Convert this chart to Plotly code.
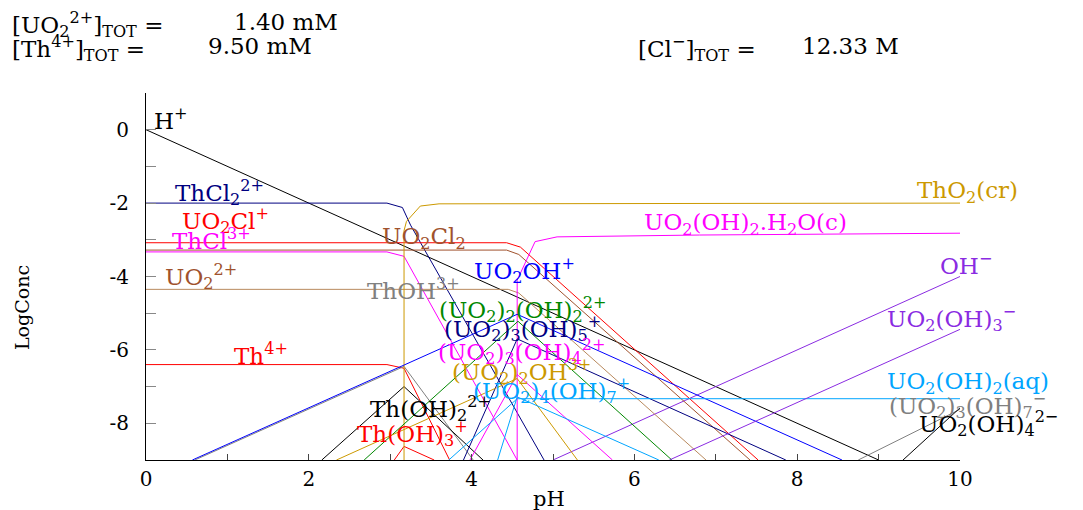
import plotly.graph_objects as go

# pH / log concentration
h_ph = [0, 9]
h_lc = [0, -9]
oh_ph = [5, 10]
oh_lc = [-9, -4]

thcl2_ph = [0, 2.96, 3.15, 3.25, 4.89]
thcl2_lc = [-2.0, -2.0, -2.12, -2.6, -9]
uo2cl_ph = [0, 4.43, 4.6, 7.52]
uo2cl_lc = [-3.08, -3.08, -3.2, -9]
uo2cl2_ph = [0, 4.43, 4.58, 7.42]
uo2cl2_lc = [-3.28, -3.28, -3.4, -9]
thcl3_ph = [0, 2.96, 3.17, 4.56]
thcl3_lc = [-3.33, -3.33, -3.45, -9]
uo2_ph = [0, 4.45, 4.58, 6.88]
uo2_lc = [-4.35, -4.35, -4.45, -9]
th_ph = [0, 2.96, 3.17, 3.73]
th_lc = [-6.4, -6.4, -6.5, -9]
thoh_ph = [0.6, 3.17, 4.02]
thoh_lc = [-9, -6.45, -9]
thoh2_ph = [2.16, 3.17, 4.14]
thoh2_lc = [-9, -7.0, -9]
thoh3_ph = [3.05, 3.17, 3.54]
thoh3_lc = [-9, -8.63, -9]
tho2_ph = [3.17, 3.17, 3.2, 3.37, 3.6, 10]
tho2_lc = [-9, -2.75, -2.5, -2.08, -2.02, -2.0]
uo2s_ph = [4.56, 4.56, 4.78, 5.05, 6.8, 10]
uo2s_lc = [-9, -4.1, -3.05, -2.92, -2.87, -2.82]
uo2oh_ph = [0.57, 4.56, 8.55]
uo2oh_lc = [-9, -5.03, -9]
u2oh2_ph = [2.68, 4.57, 6.46]
u2oh2_lc = [-9, -5.22, -9]
u3oh5_ph = [3.9, 4.56, 7.86]
u3oh5_lc = [-9, -5.7, -9]
u3oh4_ph = [3.98, 4.56, 5.73]
u3oh4_lc = [-9, -6.67, -9]
u2oh_ph = [2.34, 4.56, 5.3]
u2oh_lc = [-9, -6.78, -9]
u4oh7_ph = [4.32, 4.56, 6.3]
u4oh7_lc = [-9, -7.28, -9]
uoh2aq_ph = [3.72, 4.56, 10]
uoh2aq_lc = [-9, -7.33, -7.33]
uoh3_ph = [6.43, 10]
uoh3_lc = [-9, -5.44]
u3oh7_ph = [8.75, 10]
u3oh7_lc = [-9, -7.62]
uoh4_ph = [9.3, 10]
uoh4_lc = [-9, -7.58]

NAVY = "#000080"
RED = "#ff0000"
MAG = "#ff00ff"
BROWN = "#a0522d"
GRAY = "#808080"
BLUE = "#0000ff"
GREEN = "#008800"
GOLD = "#cc9900"
LBLUE = "#00a5ff"
PURP = "#8a2be2"

lines = [
    (h_ph, h_lc, "black"), (oh_ph, oh_lc, PURP),
    (thcl2_ph, thcl2_lc, NAVY), (uo2cl_ph, uo2cl_lc, RED),
    (uo2cl2_ph, uo2cl2_lc, BROWN), (thcl3_ph, thcl3_lc, MAG),
    (uo2_ph, uo2_lc, "#b98a5e"), (th_ph, th_lc, RED),
    (thoh_ph, thoh_lc, GRAY), (thoh2_ph, thoh2_lc, "black"),
    (thoh3_ph, thoh3_lc, RED), (tho2_ph, tho2_lc, GOLD),
    (uo2s_ph, uo2s_lc, MAG), (uo2oh_ph, uo2oh_lc, BLUE),
    (u2oh2_ph, u2oh2_lc, GREEN), (u3oh5_ph, u3oh5_lc, NAVY),
    (u3oh4_ph, u3oh4_lc, MAG), (u2oh_ph, u2oh_lc, GOLD),
    (u4oh7_ph, u4oh7_lc, LBLUE), (uoh2aq_ph, uoh2aq_lc, LBLUE),
    (uoh3_ph, uoh3_lc, PURP), (u3oh7_ph, u3oh7_lc, GRAY),
    (uoh4_ph, uoh4_lc, "black"),
]

# species labels: text, pH, logC, colour
labels = [
    ("H<sup>+</sup>", 0.07, 0.3, "black"),
    ("ThCl<sub>2</sub><sup>2+</sup>", 0.33, -1.71, NAVY),
    ("UO<sub>2</sub>Cl<sup>+</sup>", 0.42, -2.48, RED),
    ("ThCl<sup>3+</sup>", 0.29, -2.97, MAG),
    ("UO<sub>2</sub><sup>2+</sup>", 0.21, -4.0, BROWN),
    ("UO<sub>2</sub>Cl<sub>2</sub>", 2.87, -2.94, BROWN),
    ("ThOH<sup>3+</sup>", 2.69, -4.35, GRAY),
    ("UO<sub>2</sub>OH<sup>+</sup>", 4.0, -3.84, BLUE),
    ("(UO<sub>2</sub>)<sub>2</sub>(OH)<sub>2</sub><sup>2+</sup>", 3.57, -4.9, GREEN),
    ("(UO<sub>2</sub>)<sub>3</sub>(OH)<sub>5</sub><sup>+</sup>", 3.64, -5.41, NAVY),
    ("(UO<sub>2</sub>)<sub>3</sub>(OH)<sub>4</sub><sup>2+</sup>", 3.56, -6.04, MAG),
    ("(UO<sub>2</sub>)<sub>2</sub>OH<sup>3+</sup>", 3.73, -6.58, GOLD),
    ("(UO<sub>2</sub>)<sub>4</sub>(OH)<sub>7</sub><sup>+</sup>", 3.99, -7.1, LBLUE),
    ("Th(OH)<sub>2</sub><sup>2+</sup>", 2.73, -7.59, "black"),
    ("Th(OH)<sub>3</sub><sup>+</sup>", 2.57, -8.27, RED),
    ("Th<sup>4+</sup>", 1.06, -6.1, RED),
    ("ThO<sub>2</sub>(cr)", 9.45, -1.69, GOLD),
    ("UO<sub>2</sub>(OH)<sub>2</sub>.H<sub>2</sub>O(c)", 6.09, -2.56, MAG),
    ("OH<sup>−</sup>", 9.73, -3.67, PURP),
    ("UO<sub>2</sub>(OH)<sub>3</sub><sup>−</sup>", 9.08, -5.14, PURP),
    ("UO<sub>2</sub>(OH)<sub>2</sub>(aq)", 9.08, -6.91, LBLUE),
    ("(UO<sub>2</sub>)<sub>3</sub>(OH)<sub>7</sub><sup>−</sup>", 9.1, -7.51, GRAY),
    ("UO<sub>2</sub>(OH)<sub>4</sub><sup>2−</sup>", 9.47, -8.0, "black"),
]

x_ticks = list(range(0, 11))
x_text = ["0", "", "2", "", "4", "", "6", "", "8", "", "10"]
y_ticks = list(range(-9, 2))
y_text = ["", "-8", "", "-6", "", "-4", "", "-2", "", "0", ""]

FONT = "DejaVu Serif"
OFF = 8  # page body margin
L, R, T, B = 146 - OFF, 115, 93 - OFF, 50
W, H = 1067, 502

fig = go.Figure()
for xs, ys, c in lines:
    fig.add_trace(go.Scatter(x=xs, y=ys, mode="lines", line=dict(color=c, width=1),
                             showlegend=False, hoverinfo="skip"))

for txt, xv, yv, c in labels:
    fig.add_annotation(x=xv, y=yv, xref="x", yref="y", text=txt, showarrow=False,
                       xanchor="left", yanchor="middle",
                       font=dict(family=FONT, size=23, color=c))


def px2paper(px, py):
    # page pixel -> paper coords
    px, py = px - OFF, py - OFF
    return (px - L) / (W - L - R), (H - B - py) / (H - T - B)


header = [
    ("[UO<sub>2</sub><sup>2+</sup>]<sub>TOT</sub> =", 10, 24),
    ("1.40 mM", 232, 22),
    ("[Th<sup>4+</sup>]<sub>TOT</sub> =", 10, 48),
    ("9.50 mM", 206, 46),
    ("[Cl<sup>−</sup>]<sub>TOT</sub> =", 636, 48),
    ("12.33 M", 800, 46),
]
for txt, px, py in header:
    xp, yp = px2paper(px, py)
    fig.add_annotation(x=xp, y=yp, xref="paper", yref="paper", text=txt, showarrow=False,
                       xanchor="left", yanchor="middle",
                       font=dict(family=FONT, size=23, color="black"))

xp, yp = px2paper(549, 499)
fig.add_annotation(x=xp, y=yp, xref="paper", yref="paper", text="pH", showarrow=False,
                   xanchor="center", yanchor="middle",
                   font=dict(family=FONT, size=21, color="black"))
xp, yp = px2paper(22, 307)
fig.add_annotation(x=xp, y=yp, xref="paper", yref="paper", text="LogConc", showarrow=False,
                   xanchor="center", yanchor="middle", textangle=-90,
                   font=dict(family=FONT, size=19, color="black"))

fig.update_xaxes(range=[0, 10], showline=True, linecolor="black", linewidth=1,
                 ticks="inside", ticklen=6, tickcolor="#444", tickvals=x_ticks, ticktext=x_text,
                 showgrid=False, zeroline=False, ticklabelstandoff=1,
                 tickfont=dict(family=FONT, size=20, color="black"))
fig.update_yaxes(range=[-9, 1], showline=True, linecolor="black", linewidth=1,
                 ticks="inside", ticklen=10, tickcolor="#888", tickvals=y_ticks, ticktext=y_text,
                 showgrid=False, zeroline=False, ticklabelstandoff=12,
                 tickfont=dict(family=FONT, size=20, color="black"))
fig.update_layout(width=W, height=H, autosize=False, margin=dict(l=L, r=R, t=T, b=B),
                  plot_bgcolor="white", paper_bgcolor="white")
fig.write_html("out.html")
